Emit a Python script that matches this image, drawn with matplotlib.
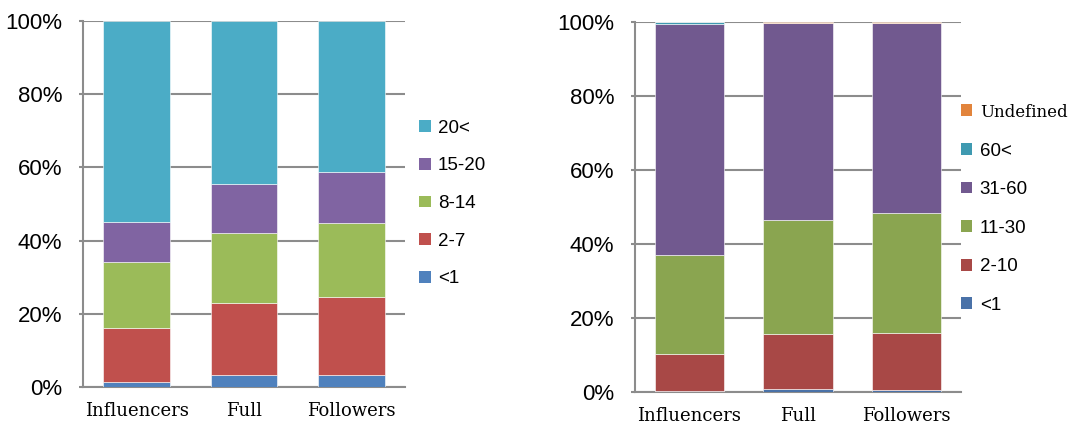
import matplotlib
matplotlib.use("Agg")
import matplotlib.pyplot as plt
import numpy as np
from matplotlib.patches import Patch

categories = ["Influencers", "Full", "Followers"]

# Left chart: age groups (percent)
left_labels = ["<1", "2-7", "8-14", "15-20", "20<"]
left_lt1 = [1.4, 3.3, 3.3]
left_2_7 = [14.7, 19.7, 21.3]
left_8_14 = [18.1, 19.1, 20.2]
left_15_20 = [10.9, 13.4, 13.9]
left_20p = [54.9, 44.5, 41.3]
left_colors = ["#4F81BD", "#C0504D", "#9BBB59", "#8064A2", "#4BACC6"]

# Right chart: groups (percent)
right_labels = ["<1", "2-10", "11-30", "31-60", "60<", "Undefined"]
right_lt1 = [0.2, 0.8, 0.6]
right_2_10 = [10.1, 14.9, 15.4]
right_11_30 = [26.7, 30.8, 32.4]
right_31_60 = [62.5, 53.2, 51.3]
right_60p = [0.5, 0.1, 0.1]
right_undef = [0.0, 0.2, 0.2]
right_colors = ["#4A72A8", "#A84846", "#8AA550", "#71598F", "#3F9AB1", "#E2843C"]

SANS = "Liberation Sans"
SERIF = "DejaVu Serif"
GRID = "#8c8c8c"

fig = plt.figure(figsize=(10.75, 4.28), dpi=100)


def draw(ax, series, labels, colors, width, legend_anchor, spacing, xpad):
    x = np.arange(len(categories))
    bottom = np.zeros(len(categories))
    for vals, lab, col in zip(series, labels, colors):
        ax.bar(x, vals, width, bottom=bottom, color=col, label=lab,
               edgecolor="white", linewidth=0.4, zorder=3)
        bottom += np.array(vals)
    ax.set_xlim(-0.5, len(categories) - 0.5)
    ax.set_ylim(0, 100)
    ax.set_yticks(np.arange(0, 101, 20))
    ax.set_yticklabels([f"{v}%" for v in range(0, 101, 20)], fontfamily=SANS, fontsize=16)
    ax.set_xticks(x)
    ax.set_xticklabels(categories, fontfamily=SERIF, fontsize=13)
    ax.tick_params(axis="x", length=0, pad=xpad)
    ax.tick_params(axis="y", length=3, color=GRID, width=1.5, pad=12)
    ax.yaxis.grid(True, color=GRID, linewidth=1.5, zorder=0)
    ax.set_axisbelow(True)
    for s in ["top", "right"]:
        ax.spines[s].set_visible(False)
    for s in ["left", "bottom"]:
        ax.spines[s].set_color(GRID)
        ax.spines[s].set_linewidth(1.5)
    handles = [Patch(facecolor=c) for c in colors][::-1]
    leg = ax.legend(handles, labels[::-1], loc="upper left", bbox_to_anchor=legend_anchor,
                    bbox_transform=fig.transFigure, frameon=False,
                    handlelength=0.6, handleheight=0.6, handletextpad=0.4,
                    labelspacing=spacing, prop={"family": SANS, "size": 13.5},
                    borderaxespad=0, borderpad=0)
    return leg


ax1 = fig.add_axes([0.0772, 0.0958, 0.2995, 0.8552])
draw(ax1, [left_lt1, left_2_7, left_8_14, left_15_20, left_20p],
     left_labels, left_colors, 0.62, (0.390, 0.720), 1.1, 11)

ax2 = fig.add_axes([0.5907, 0.0841, 0.3033, 0.8645])
leg2 = draw(ax2, [right_lt1, right_2_10, right_11_30, right_31_60, right_60p, right_undef],
            right_labels, right_colors, 0.64, (0.894, 0.757), 1.15, 11)
leg2.get_texts()[0].set_family(SERIF)
leg2.get_texts()[0].set_fontsize(12)

fig.savefig("out.png", dpi=100)
